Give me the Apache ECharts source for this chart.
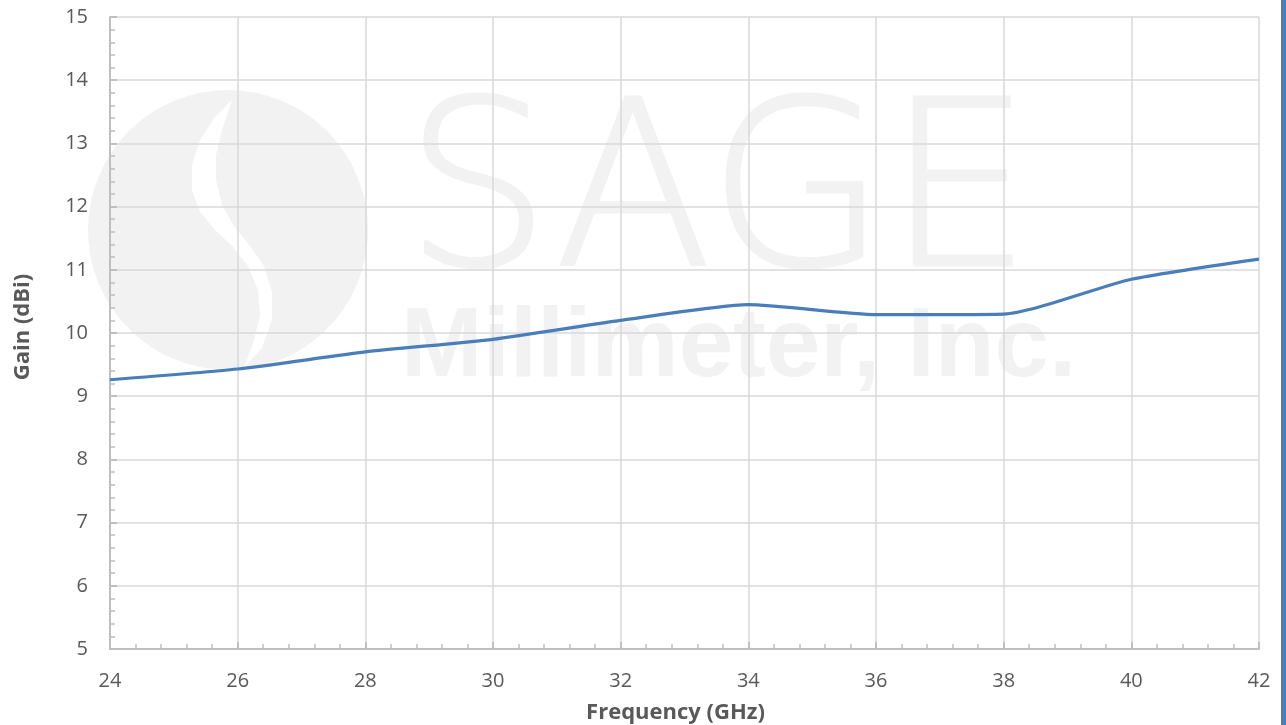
<!DOCTYPE html>
<html>
<head>
<meta charset="utf-8">
<script src="https://cdn.jsdelivr.net/npm/echarts@6/dist/echarts.min.js"></script>
<style>
html,body{margin:0;padding:0;background:#fff;}
#c{width:1286px;height:725px;}
</style>
</head>
<body>
<div id="c"></div>
<script>
// Data
var frequencies = [24, 26, 28, 30, 32, 34, 36, 38, 40, 42];
var gainValues = [9.26, 9.43, 9.70, 9.90, 10.20, 10.45, 10.29, 10.30, 10.85, 11.17];
var xTicks = [24, 26, 28, 30, 32, 34, 36, 38, 40, 42];
var yTicks = [5, 6, 7, 8, 9, 10, 11, 12, 13, 14, 15];
var xTitle = 'Frequency (GHz)';
var yTitle = 'Gain (dBi)';
var watermarkBig = 'SAGE';
var watermarkSmall = 'Millimeter, Inc.';

var seriesData = frequencies.map(function (f, i) { return [f, gainValues[i]]; });

var chart = echarts.init(document.getElementById('c'));
var wm = '#f2f2f2';
var labelFont = '"Open Sans", "Liberation Sans", sans-serif';

chart.setOption({
  animation: false,
  backgroundColor: '#ffffff',
  grid: { left: 110, right: 27, top: 17, bottom: 76, containLabel: false, outerBoundsMode: 'none' },
  graphic: [
    { type: 'circle', z: -100, silent: true, shape: { cx: 228, cy: 230, r: 140 }, style: { fill: wm } },
    { type: 'polygon', z: -99, silent: true,
      shape: { points: [[232,100],[214,118],[200,140],[192,165],[192,190],[200,212],[215,230],[232,246],[248,266],[258,290],[260,315],[254,340],[244,368],[262,348],[272,320],[272,292],[264,266],[250,246],[234,226],[222,205],[216,180],[216,155],[222,130]] },
      style: { fill: '#ffffff' } },
    { type: 'text', z: -98, silent: true, left: 403, top: 89,
      style: { text: watermarkBig, fontSize: 230, fontWeight: 200, fontFamily: '"DejaVu Sans", "Liberation Sans", sans-serif', fill: wm, stroke: wm, lineWidth: 3 } },
    { type: 'text', z: -98, silent: true, left: 401, top: 300,
      style: { text: watermarkSmall, fontSize: 98, fontWeight: 'bold', fontFamily: '"Liberation Sans", sans-serif', fill: wm } },
    { type: 'rect', z: 100, silent: true, shape: { x: 1281, y: 0, width: 5, height: 725 }, style: { fill: '#4a7ebb' } }
  ],
  xAxis: {
    type: 'value',
    min: 24, max: 42, interval: 2,
    name: xTitle,
    nameLocation: 'middle',
    nameGap: 53,
    nameTextStyle: { color: '#595959', fontSize: 22, fontWeight: 'bold', fontFamily: labelFont, padding: [0, 18, 0, 0] },
    axisLine: { show: true, lineStyle: { color: '#bfbfbf', width: 2 } },
    axisTick: { show: true, inside: true, length: 7, lineStyle: { color: '#bfbfbf', width: 2 } },
    minorTick: { show: true, splitNumber: 5, length: 5, lineStyle: { color: '#bfbfbf', width: 1.5 } },
    axisLabel: { color: '#595959', fontSize: 20, margin: 22, fontFamily: labelFont,
      formatter: function (v) { return xTicks.indexOf(v) >= 0 ? String(v) : ''; } },
    splitLine: { show: true, lineStyle: { color: '#d9d9d9', width: 1.5 } }
  },
  yAxis: {
    type: 'value',
    min: 5, max: 15, interval: 1,
    name: yTitle,
    nameLocation: 'middle',
    nameGap: 76,
    nameTextStyle: { color: '#595959', fontSize: 22, fontWeight: 'bold', fontFamily: labelFont, padding: [0, 0, 0, 12] },
    axisLine: { show: true, lineStyle: { color: '#bfbfbf', width: 2 } },
    axisTick: { show: true, inside: true, length: 7, lineStyle: { color: '#bfbfbf', width: 2 } },
    minorTick: { show: true, splitNumber: 5, length: 5, lineStyle: { color: '#bfbfbf', width: 1.5 } },
    axisLabel: { color: '#595959', fontSize: 20, margin: 22, fontFamily: labelFont,
      formatter: function (v) { return yTicks.indexOf(v) >= 0 ? String(v) : ''; } },
    splitLine: { show: true, lineStyle: { color: '#d9d9d9', width: 1.5 } }
  },
  series: [{
    type: 'line',
    data: seriesData,
    smooth: 0.2,
    showSymbol: false,
    lineStyle: { color: '#4a7ebb', width: 3.2 },
    itemStyle: { color: '#4a7ebb' },
    z: 5
  }]
});
</script>
</body>
</html>
